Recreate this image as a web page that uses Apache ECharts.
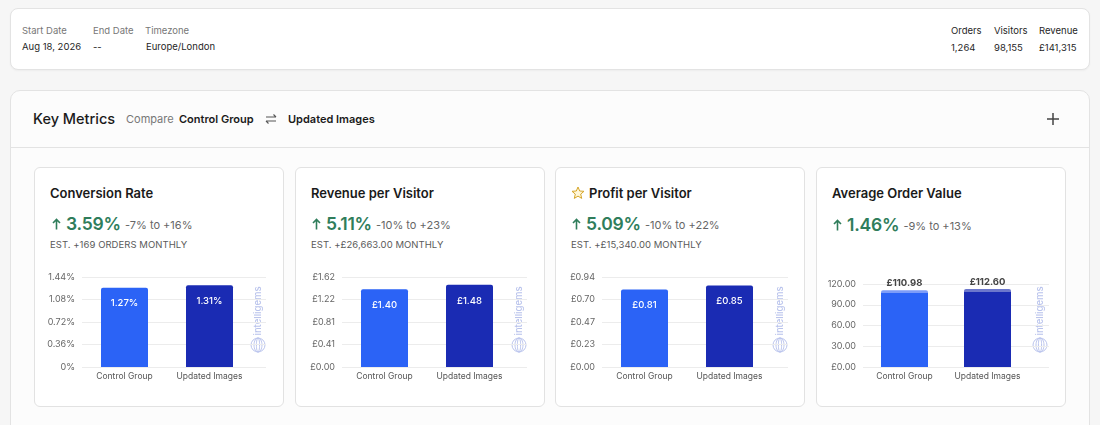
<!DOCTYPE html>
<html>
<head>
<meta charset="utf-8">
<script src="https://cdn.jsdelivr.net/npm/echarts@6/dist/echarts.min.js"></script>
<style>
  html, body { margin:0; padding:0; }
  body { width:1100px; height:425px; overflow:hidden; background:#f6f6f6; font-family:Inter, "Noto Sans", sans-serif; position:relative; color:#1f1f1f; }
  .box { position:absolute; box-sizing:border-box; }
  .t { position:absolute; white-space:nowrap; line-height:14px; }
  .lab { font-size:9.5px; color:#777; }
  .val { font-size:9.5px; color:#1f1f1f; }
  .title { font-size:13px; font-weight:600; color:#1a1a1a; }
  .lift { position:absolute; white-space:nowrap; line-height:22px; height:22px; display:flex; align-items:center; }
  .num { font-size:17.5px; font-weight:600; color:#2f7d5b; margin-left:5px; letter-spacing:-0.2px; }
  .rng { font-size:11px; color:#666; margin-left:4px; padding-top:2px; }
  .est { font-size:9.5px; color:#5a5a5a; letter-spacing:0.05px; }
  #chart { position:absolute; left:0; top:0; width:1100px; height:425px; z-index:5; pointer-events:none; }
</style>
</head>
<body>
<!-- top summary card -->
<div class="box" style="left:10px;top:8px;width:1080px;height:62px;background:#fff;border:1px solid #e3e3e3;border-radius:8px;box-shadow:0 1px 2px rgba(0,0,0,0.04);"></div>
<div class="t lab" style="left:22px;top:24px;">Start Date</div>
<div class="t val" style="left:22px;top:40px;">Aug 18, 2026</div>
<div class="t lab" style="left:93px;top:24px;">End Date</div>
<div class="t val" style="left:93px;top:40px;">--</div>
<div class="t lab" style="left:145px;top:24px;">Timezone</div>
<div class="t val" style="left:146px;top:40px;">Europe/London</div>
<div class="t val" style="left:951px;top:24px;">Orders</div>
<div class="t val" style="left:951px;top:41px;">1,264</div>
<div class="t val" style="left:994px;top:24px;">Visitors</div>
<div class="t val" style="left:994px;top:41px;">98,155</div>
<div class="t val" style="left:1039px;top:24px;">Revenue</div>
<div class="t val" style="left:1039px;top:41px;">£141,315</div>

<!-- key metrics panel -->
<div class="box" style="left:10px;top:90px;width:1080px;height:360px;background:#fcfcfc;border:1px solid #e3e3e3;border-radius:10px;"></div>
<div class="box" style="left:11px;top:147px;width:1078px;height:1px;background:#e3e3e3;"></div>
<div class="t" style="left:33px;top:111px;line-height:16px;font-size:14.5px;font-weight:500;color:#1a1a1a;">Key Metrics</div>
<div class="t" style="left:126px;top:112px;font-size:11px;color:#777;">Compare</div>
<div class="t" style="left:179px;top:112px;font-size:11px;font-weight:600;color:#1a1a1a;">Control Group</div>
<svg class="box" style="left:265px;top:113px;" width="12" height="12" viewBox="0 0 12 12">
  <path d="M1 4 H11 M8.5 1.5 L11 4 M1 8 H11 M3.5 10.5 L1 8" fill="none" stroke="#555" stroke-width="1.1"/>
</svg>
<div class="t" style="left:288px;top:112px;font-size:11px;font-weight:600;color:#1a1a1a;">Updated Images</div>
<svg class="box" style="left:1046px;top:112px;" width="14" height="14" viewBox="0 0 14 14">
  <path d="M7 1 V13 M1 7 H13" stroke="#444" stroke-width="1.5"/>
</svg>

<!-- cards -->
<div class="box" style="left:34px;top:167px;width:250px;height:240px;background:#fff;border:1px solid #e2e2e2;border-radius:6px;"></div>
<div class="box" style="left:295px;top:167px;width:250px;height:240px;background:#fff;border:1px solid #e2e2e2;border-radius:6px;"></div>
<div class="box" style="left:555px;top:167px;width:250px;height:240px;background:#fff;border:1px solid #e2e2e2;border-radius:6px;"></div>
<div class="box" style="left:816px;top:167px;width:250px;height:240px;background:#fff;border:1px solid #e2e2e2;border-radius:6px;"></div>

<!-- card texts -->
<div class="t title" style="left:50px;top:186px;">Conversion Rate</div>
<div class="lift" style="left:52px;top:213px;"><svg width="9" height="12" viewBox="0 0 9 12"><path d="M4.5 11.5 V1.5 M1 5 L4.5 1.5 L8 5" fill="none" stroke="#2f7d5b" stroke-width="1.6"/></svg><span class="num">3.59%</span><span class="rng">-7% to +16%</span></div>
<div class="t est" style="left:50px;top:238px;">EST. +169 ORDERS MONTHLY</div>

<div class="t title" style="left:311px;top:186px;">Revenue per Visitor</div>
<div class="lift" style="left:312px;top:213px;"><svg width="9" height="12" viewBox="0 0 9 12"><path d="M4.5 11.5 V1.5 M1 5 L4.5 1.5 L8 5" fill="none" stroke="#2f7d5b" stroke-width="1.6"/></svg><span class="num">5.11%</span><span class="rng">-10% to +23%</span></div>
<div class="t est" style="left:311px;top:238px;">EST. +£26,663.00 MONTHLY</div>

<svg class="box" style="left:571px;top:186px;" width="14" height="14" viewBox="0 0 14 14">
  <path d="M7 1 L8.7 5 L13 5.3 L9.7 8.1 L10.7 12.4 L7 10.1 L3.3 12.4 L4.3 8.1 L1 5.3 L5.3 5 Z" fill="#fff7d9" stroke="#d6a62a" stroke-width="1" stroke-linejoin="round"/>
</svg>
<div class="t title" style="left:589px;top:186px;">Profit per Visitor</div>
<div class="lift" style="left:572px;top:213px;"><svg width="9" height="12" viewBox="0 0 9 12"><path d="M4.5 11.5 V1.5 M1 5 L4.5 1.5 L8 5" fill="none" stroke="#2f7d5b" stroke-width="1.6"/></svg><span class="num">5.09%</span><span class="rng">-10% to +22%</span></div>
<div class="t est" style="left:571px;top:238px;">EST. +£15,340.00 MONTHLY</div>

<div class="t title" style="left:832px;top:186px;">Average Order Value</div>
<div class="lift" style="left:833px;top:214px;"><svg width="9" height="12" viewBox="0 0 9 12"><path d="M4.5 11.5 V1.5 M1 5 L4.5 1.5 L8 5" fill="none" stroke="#2f7d5b" stroke-width="1.6"/></svg><span class="num">1.46%</span><span class="rng">-9% to +13%</span></div>

<div id="chart"></div>

<script>
// ---------- data ----------
const categories = ['Control Group', 'Updated Images'];

const conversionRate = [1.27, 1.31];
const revenuePerVisitor = [1.40, 1.48];
const profitPerVisitor = [0.81, 0.85];
const averageOrderValue = [110.98, 112.60];
const averageOrderValueCap = [4, 4];

const conversionTicks = ['0%', '0.36%', '0.72%', '1.08%', '1.44%'];
const revenueTicks = ['£0.00', '£0.41', '£0.81', '£1.22', '£1.62'];
const profitTicks = ['£0.00', '£0.23', '£0.47', '£0.70', '£0.94'];
const aovTicks = ['£0.00', '30.00', '60.00', '90.00', '120.00'];

const conversionMax = 1.44;
const revenueMax = 1.62;
const profitMax = 0.94;
const aovMax = 120;

// ---------- styles ----------
const barColors = ['#2b63f6', '#1a2bb3'];
const capColors = ['#7d9cf8', '#6c77cc'];
const watermarkColor = '#b9c3ec';

const chart = echarts.init(document.getElementById('chart'), null, { renderer: 'canvas' });

const grids = [], xAxes = [], yAxes = [], series = [], graphics = [];

function addCard(cfg) {
  const gi = grids.length;
  // axis grid (split lines + y labels)
  grids.push({ left: cfg.left, top: cfg.top, width: cfg.lineWidth, height: cfg.height, containLabel: false });
  xAxes.push({ gridIndex: gi, type: 'value', show: false, min: 0, max: 1 });
  const interval = cfg.max / 4;
  yAxes.push({
    gridIndex: gi, type: 'value', min: 0, max: cfg.max, interval: interval,
    axisLine: { show: false }, axisTick: { show: false },
    splitLine: { lineStyle: { color: '#ececec', width: 1 } },
    axisLabel: {
      color: '#666', fontSize: 9, margin: 7, fontFamily: 'Inter',
      formatter: function (v) { return cfg.ticks[Math.round(v / interval)]; }
    }
  });
  series.push({ type: 'line', xAxisIndex: gi, yAxisIndex: gi, data: [], silent: true });

  // bar grid
  const bi = grids.length;
  grids.push({ left: cfg.left, top: cfg.top, width: cfg.barWidthArea, height: cfg.height, containLabel: false });
  xAxes.push({
    gridIndex: bi, type: 'category', data: categories,
    axisLine: { show: false }, axisTick: { show: false },
    axisLabel: { color: '#555', fontSize: 8.5, margin: 5, fontFamily: 'Inter', interval: 0, hideOverlap: false }
  });
  yAxes.push({ gridIndex: bi, type: 'value', min: 0, max: cfg.max, show: false, splitLine: { show: false } });

  if (!cfg.cap) {
    series.push({
      type: 'bar', xAxisIndex: bi, yAxisIndex: bi, data: cfg.values, barWidth: 47,
      itemStyle: { color: function (p) { return barColors[p.dataIndex]; }, borderRadius: [2, 2, 0, 0] },
      label: {
        show: true, position: 'insideTop', distance: 11, color: '#fff', fontSize: 9.5, fontWeight: 500,
        fontFamily: 'Inter', formatter: function (p) { return cfg.fmt(p.value); }
      },
      silent: true
    });
  } else {
    const base = cfg.values.map(function (v, i) { return v - cfg.cap[i]; });
    series.push({
      type: 'bar', xAxisIndex: bi, yAxisIndex: bi, stack: 'aov' + bi, data: base, barWidth: 47,
      itemStyle: { color: function (p) { return barColors[p.dataIndex]; } }, silent: true
    });
    series.push({
      type: 'bar', xAxisIndex: bi, yAxisIndex: bi, stack: 'aov' + bi, data: cfg.cap, barWidth: 47,
      itemStyle: { color: function (p) { return capColors[p.dataIndex]; }, borderRadius: [2, 2, 0, 0] },
      label: {
        show: true, position: 'top', distance: 2, color: '#444', fontSize: 9.5, fontWeight: 700,
        fontFamily: 'Inter', formatter: function (p) { return cfg.fmt(cfg.values[p.dataIndex]); }
      },
      silent: true
    });
  }

  // watermark
  graphics.push({
    type: 'text', x: cfg.wmX, y: cfg.wmY, rotation: Math.PI / 2,
    style: { text: 'intelligems', fill: watermarkColor, font: '500 9.5px Inter', align: 'center', verticalAlign: 'middle' }
  });
  graphics.push({ type: 'circle', shape: { cx: cfg.wmX, cy: cfg.wmY + 34, r: 7 }, style: { fill: 'none', stroke: watermarkColor, lineWidth: 1 } });
  graphics.push({ type: 'ellipse', shape: { cx: cfg.wmX, cy: cfg.wmY + 34, rx: 4, ry: 7 }, style: { fill: 'none', stroke: watermarkColor, lineWidth: 1 } });
  graphics.push({ type: 'ellipse', shape: { cx: cfg.wmX, cy: cfg.wmY + 34, rx: 1.6, ry: 7 }, style: { fill: 'none', stroke: watermarkColor, lineWidth: 1 } });
}

addCard({ left: 82, top: 277, height: 90, lineWidth: 184, barWidthArea: 170, max: conversionMax, ticks: conversionTicks,
  values: conversionRate, fmt: function (v) { return v.toFixed(2) + '%'; }, wmX: 258, wmY: 311 });
addCard({ left: 342, top: 277, height: 90, lineWidth: 185, barWidthArea: 170, max: revenueMax, ticks: revenueTicks,
  values: revenuePerVisitor, fmt: function (v) { return '£' + v.toFixed(2); }, wmX: 519, wmY: 311 });
addCard({ left: 602, top: 277, height: 90, lineWidth: 186, barWidthArea: 170, max: profitMax, ticks: profitTicks,
  values: profitPerVisitor, fmt: function (v) { return '£' + v.toFixed(2); }, wmX: 780, wmY: 311 });
addCard({ left: 863, top: 284, height: 83, lineWidth: 186, barWidthArea: 166, max: aovMax, ticks: aovTicks,
  values: averageOrderValue, cap: averageOrderValueCap, fmt: function (v) { return '£' + v.toFixed(2); }, wmX: 1040, wmY: 311 });

chart.setOption({
  animation: false,
  textStyle: { fontFamily: 'Inter' },
  grid: grids, xAxis: xAxes, yAxis: yAxes, series: series, graphic: graphics
});
</script>
</body>
</html>
